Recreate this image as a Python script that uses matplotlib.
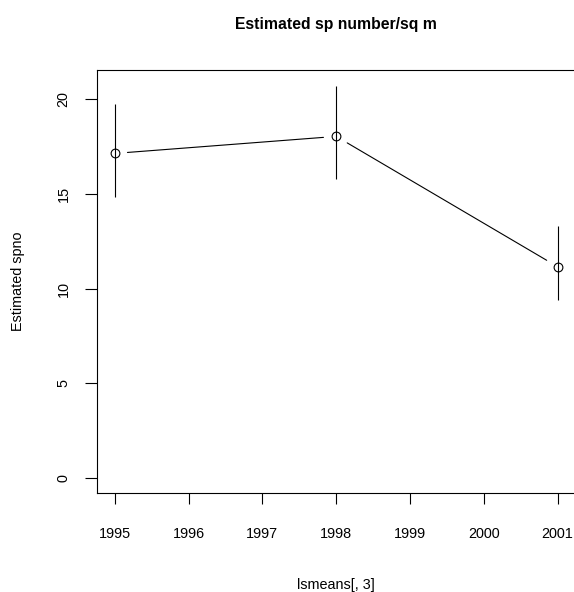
import matplotlib
matplotlib.use("Agg")
import matplotlib.pyplot as plt

# data
years = [1995, 1998, 2001]
means = [17.14, 18.04, 11.15]
upper = [19.75, 20.70, 13.30]
lower = [14.84, 15.77, 9.37]
xticks = [1995, 1996, 1997, 1998, 1999, 2000, 2001]
yticks = [0, 5, 10, 15, 20]
title = "Estimated sp number/sq m"
xlabel = "lsmeans[, 3]"
ylabel = "Estimated spno"

plt.rcParams['font.family'] = ['Liberation Sans', 'DejaVu Sans']
W, H = 574, 592
fig = plt.figure(figsize=(W / 100, H / 100), dpi=100)
fig.patch.set_facecolor('white')

# plot box in pixels; its right side lies past the image edge in the reference
left, right, bottom, top = 97.0, 575.4, 493.4, 70.4
extra = 30.0  # push the clipped right side well past the edge
ax = fig.add_axes([left / W, 1 - bottom / H, (right + extra - left) / W, (bottom - top) / H])

# R style 4% range extension
xr = max(years) - min(years)
x0 = min(years) - 0.04 * xr
x1 = max(years) + 0.04 * xr
ax.set_xlim(x0, x1 + (x1 - x0) * extra / (right - left))
yr = max(upper) - 0
ax.set_ylim(0 - 0.04 * yr, max(upper) + 0.04 * yr)

lw = 0.8
# error bars
ax.vlines(years, lower, upper, colors='black', linewidth=lw)
# type="b": lines with gaps around points
for i in range(len(years) - 1):
    ax.annotate('', xy=(years[i + 1], means[i + 1]), xytext=(years[i], means[i]),
                arrowprops=dict(arrowstyle='-', shrinkA=9.2, shrinkB=9.2,
                                color='black', lw=lw))
ax.plot(years, means, linestyle='none', marker='o', markersize=6.3,
        markerfacecolor='none', markeredgecolor='black', markeredgewidth=0.8)

ax.set_xticks(xticks)
ax.set_xticklabels([str(t) for t in xticks])
ax.set_yticks(yticks)
ax.set_yticklabels([str(t) for t in yticks], rotation=90, va='center')
ax.tick_params(axis='x', length=8, width=lw, pad=16, labelsize=10.4)
ax.tick_params(axis='y', length=8.6, width=lw, pad=10.5, labelsize=10.4)
for s in ax.spines.values():
    s.set_linewidth(lw)
ax.spines['right'].set_visible(False)

fig.text(336 / W, 1 - 24 / H, title, ha='center', va='center',
         fontsize=11.3, fontweight='bold')
fig.text(336 / W, 1 - 585 / H, xlabel, ha='center', va='center', fontsize=10.4)
fig.text(18 / W, 1 - 281.5 / H, ylabel, ha='center', va='center',
         rotation=90, fontsize=10.4)

fig.savefig('out.png', dpi=100)
